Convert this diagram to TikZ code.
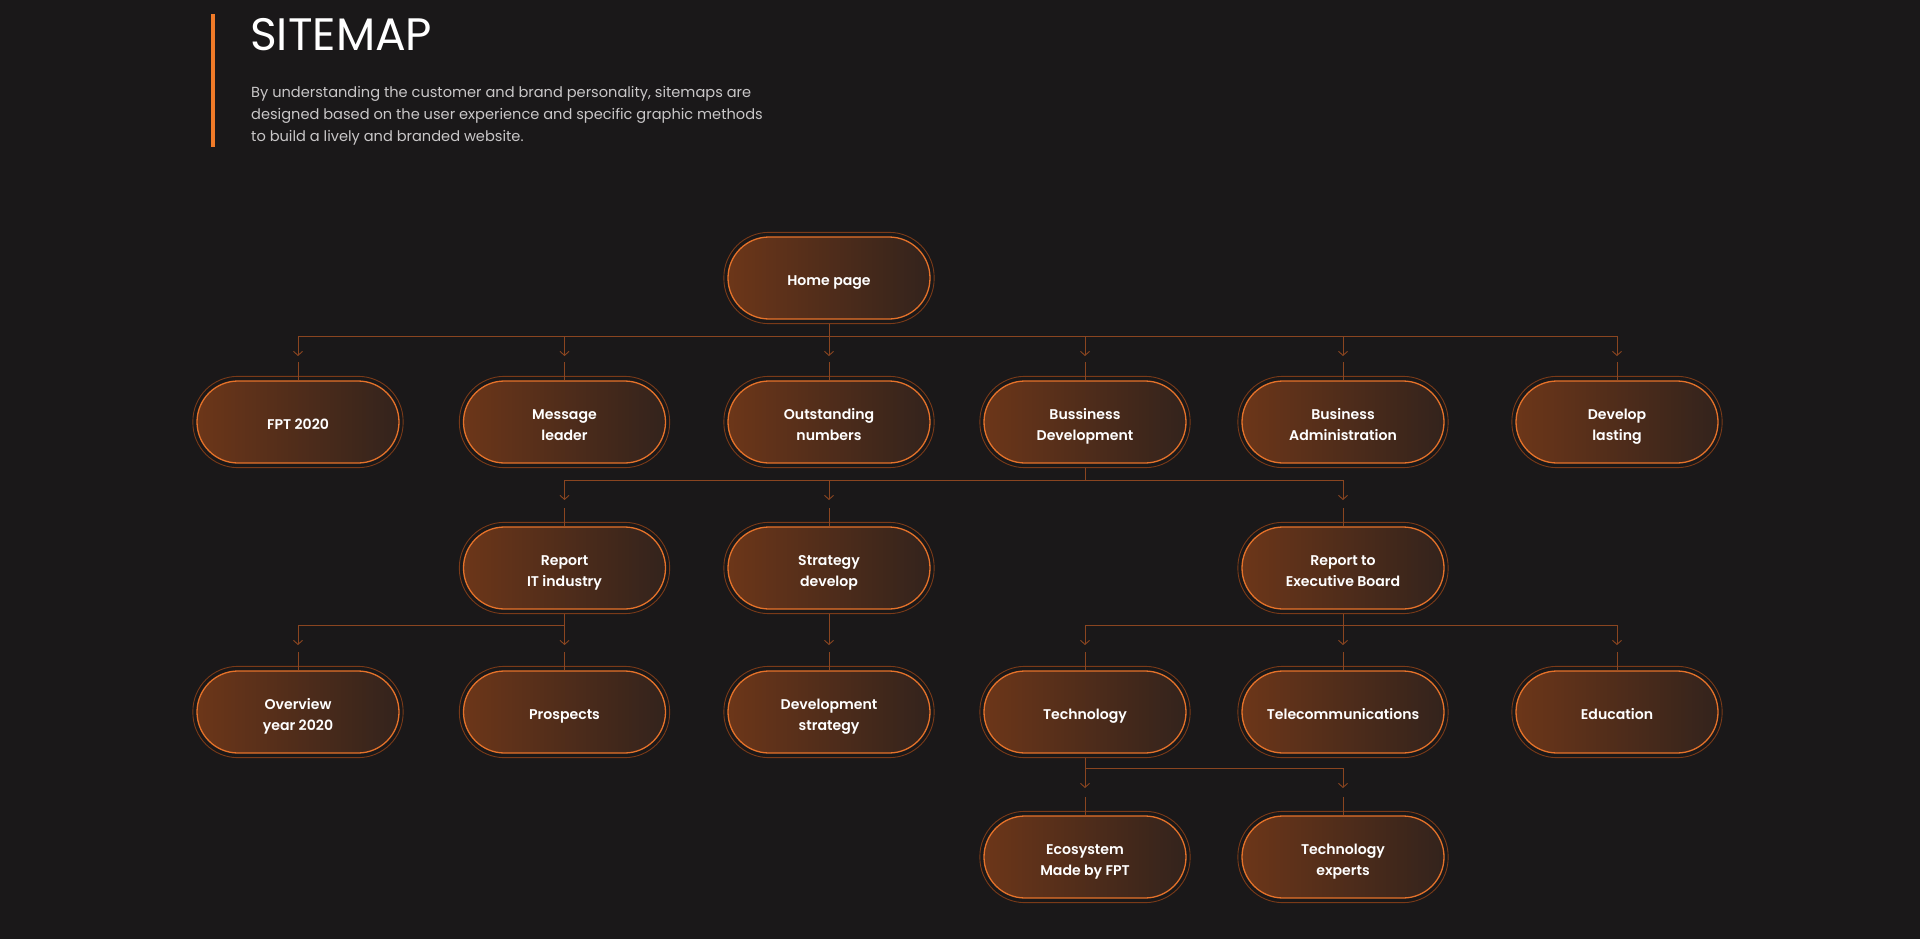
\documentclass[tikz,border=0pt]{standalone}
\usepackage{fontspec}
\setmainfont{Poppins}
\newfontfamily\nodefont{Poppins SemiBold}
\newfontfamily\titlefont{Poppins}
\usetikzlibrary{arrows.meta}
\definecolor{bg}{HTML}{1A1819}
\definecolor{accent}{HTML}{F07A28}
\definecolor{gradL}{HTML}{6C3619}
\definecolor{gradR}{HTML}{33231C}
\definecolor{pillborder}{HTML}{E5722A}
\definecolor{ringc}{HTML}{7A3A18}
\definecolor{connc}{HTML}{8A4520}
\definecolor{bodytext}{HTML}{C9C7C8}
\tikzset{
  pill/.style={draw=pillborder, line width=1.3pt, left color=gradL, right color=gradR,
    rounded corners=41pt, minimum width=202pt, minimum height=82pt, inner sep=0pt,
    align=center, text=white, font=\nodefont\fontsize{14.1}{21.5}\selectfont},
  ring/.style={draw=ringc, line width=0.9pt, rounded corners=45pt},
  conn/.style={draw=connc, line width=0.9pt},
  arr/.style={-{Straight Barb[length=4pt,width=9pt]}},
}
\newcommand\pill[4]{%
  \node[pill] (#1) at (#2,#3) {\rule{0pt}{22pt}#4\strut};
  \draw[ring] ([xshift=-3.5pt,yshift=4pt]#1.north west) rectangle ([xshift=3.5pt,yshift=-4pt]#1.south east);
}
\newcommand\drop[2]{% child, bar coordinate
  \draw[conn,arr] (#1.north |- #2) -- ++(0,20);
  \draw[conn] (#1.north) -- ++(0,-18);
}
\begin{document}
\begin{tikzpicture}[x=1pt,y=-1pt]
\fill[bg] (0,0) rectangle (1920,939);
\useasboundingbox (0,0) rectangle (1920,939);
% header
\fill[accent] (211,14) rectangle (215,147);
\node[anchor=base west, inner sep=0pt, text=white, font=\titlefont\fontsize{45.5}{45.5}\selectfont] (title) at (250,51) {SITEMAP};
\node[anchor=north west, inner sep=0pt, text=bodytext, align=left, font=\fontsize{14.6}{22}\selectfont] (desc) at (251,86.5)
 {By understanding the customer and brand personality, sitemaps are\\designed based on the user experience and specific graphic methods\\to build a lively and branded website.};
% nodes
\pill{home}{829}{278}{Home page}
\pill{fpt}{298}{422}{FPT 2020}
\pill{msg}{564.5}{422}{Message\\leader}
\pill{out}{829}{422}{Outstanding\\numbers}
\pill{bus}{1085}{422}{Bussiness\\Development}
\pill{adm}{1343}{422}{Business\\Administration}
\pill{dev}{1617}{422}{Develop\\lasting}
\pill{rep}{564.5}{568}{Report\\IT industry}
\pill{strat}{829}{568}{Strategy\\develop}
\pill{exec}{1343}{568}{Report to\\Executive Board}
\pill{ovw}{298}{712}{Overview\\year 2020}
\pill{pros}{564.5}{712}{Prospects}
\pill{dstrat}{829}{712}{Development\\strategy}
\pill{tech}{1085}{712}{Technology}
\pill{tele}{1343}{712}{Telecommunications}
\pill{edu}{1617}{712}{Education}
\pill{eco}{1085}{857}{Ecosystem\\Made by FPT}
\pill{texp}{1343}{857}{Technology\\experts}
% bars
\coordinate (b1) at (829,336);
\coordinate (b2) at (1085,480);
\coordinate (b3a) at (564.5,625);
\coordinate (b3b) at (829,625);
\coordinate (b3c) at (1343,625);
\coordinate (b4) at (1085,768);
% home -> row1
\draw[conn] ([yshift=-4pt]home.south) -- (home.south |- b1);
\draw[conn] (fpt.north |- b1) -- (dev.north |- b1);
\foreach \c in {fpt,msg,out,bus,adm,dev}{\drop{\c}{b1}}
% bus -> row2
\draw[conn] ([yshift=-4pt]bus.south) -- (bus.south |- b2);
\draw[conn] (rep.north |- b2) -- (exec.north |- b2);
\foreach \c in {rep,strat,exec}{\drop{\c}{b2}}
% rep -> ovw, pros
\draw[conn] ([yshift=-4pt]rep.south) -- (rep.south |- b3a);
\draw[conn] (ovw.north |- b3a) -- (pros.north |- b3a);
\foreach \c in {ovw,pros}{\drop{\c}{b3a}}
% strat -> dstrat
\draw[conn] ([yshift=-4pt]strat.south) -- (strat.south |- b3b);
\drop{dstrat}{b3b}
% exec -> tech, tele, edu
\draw[conn] ([yshift=-4pt]exec.south) -- (exec.south |- b3c);
\draw[conn] (tech.north |- b3c) -- (edu.north |- b3c);
\foreach \c in {tech,tele,edu}{\drop{\c}{b3c}}
% tech -> eco, texp
\draw[conn] ([yshift=-4pt]tech.south) -- (tech.south |- b4);
\draw[conn] (eco.north |- b4) -- (texp.north |- b4);
\foreach \c in {eco,texp}{\drop{\c}{b4}}
\end{tikzpicture}
\end{document}
